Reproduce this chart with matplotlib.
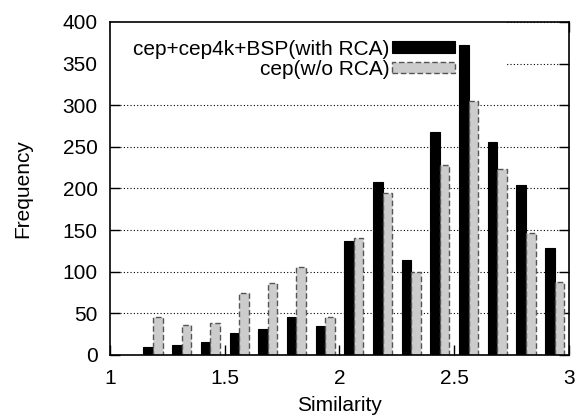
import numpy as np
import matplotlib.pyplot as plt
from matplotlib.patches import Rectangle

plt.rcParams["font.family"] = ["Liberation Sans", "DejaVu Sans"]
plt.rcParams["font.size"] = 15

# bin centres (bins of width 0.125 starting at 1.0; first bin empty)
similarity = 1.0625 + 0.125 * np.arange(1, 16)
with_rca = [10, 12, 16, 26, 31, 45, 35, 137, 208, 114, 268, 372, 256, 204, 129]
without_rca = [45, 36, 38, 74, 86, 105, 45, 141, 195, 99, 228, 305, 223, 147, 87]

labels = ["cep+cep4k+BSP(with RCA)", "cep(w/o RCA)"]

fig = plt.figure(figsize=(5.79, 4.19), dpi=100)
ax = fig.add_axes([0.19, 0.153, 0.7927, 0.7947])

w = 0.125 / 3
ax.bar(similarity - w / 2, with_rca, width=w, color="black", edgecolor="black",
       linewidth=0.8, label=labels[0], zorder=2)
ax.bar(similarity + w / 2, without_rca, width=w, color="#cccccc", edgecolor="#555555",
       linewidth=1.0, linestyle=(0, (4, 2)), label=labels[1], zorder=2)

ax.set_xlim(1, 3)
ax.set_ylim(0, 400)
ax.set_xticks([1, 1.5, 2, 2.5, 3])
ax.set_xticklabels(["1", "1.5", "2", "2.5", "3"])
ax.set_yticks(np.arange(0, 401, 50))

ax.set_axisbelow(True)
ax.yaxis.grid(True, linestyle=(0, (1, 2)), color="black", linewidth=0.8)
# key area hides the grid
ax.add_patch(Rectangle((0, 0.842), 0.86, 0.158, transform=ax.transAxes,
                       facecolor="white", edgecolor="none", zorder=1))

ax.tick_params(direction="in", length=7, width=1, top=True, right=True)
ax.tick_params(axis="y", pad=9)
ax.tick_params(axis="x", pad=10)
for s in ax.spines.values():
    s.set_linewidth(1.2)

ax.set_xlabel("Similarity", labelpad=6)
ax.set_ylabel("Frequency", labelpad=22)

leg = ax.legend(loc="upper right", bbox_to_anchor=(0.783, 0.99), frameon=False,
                markerfirst=False, handlelength=3.0, handleheight=0.5,
                labelspacing=0.05, handletextpad=0.15, borderpad=0.2)
for t in leg.get_texts():
    t.set_ha("right")

fig.savefig("out.png", dpi=100)
